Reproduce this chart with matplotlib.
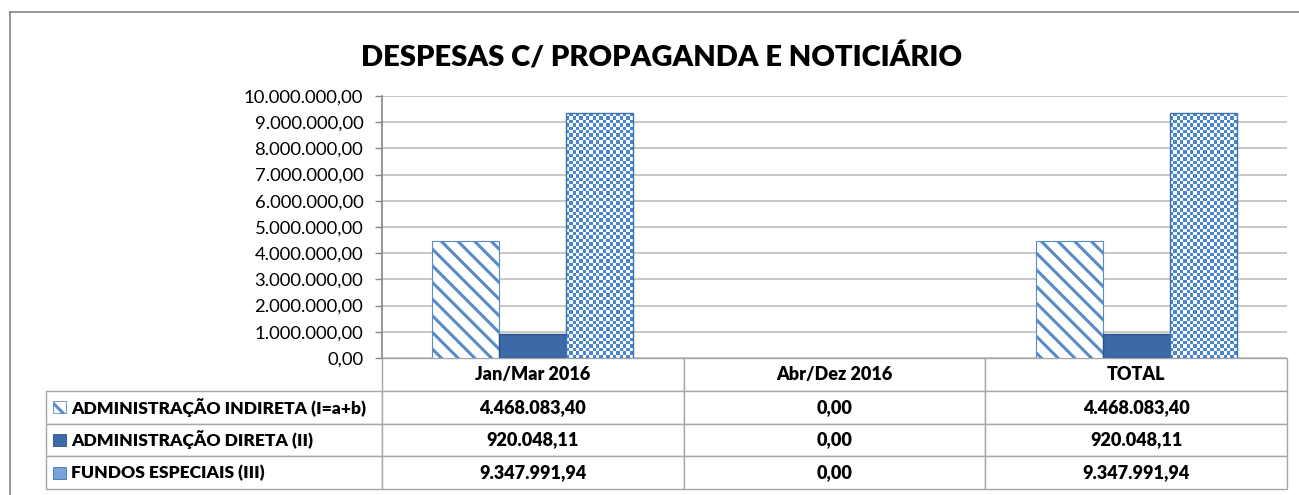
import numpy as np
import matplotlib
matplotlib.use('Agg')
import matplotlib.pyplot as plt
from matplotlib.colors import ListedColormap
from matplotlib.patches import Rectangle
from matplotlib.lines import Line2D
from matplotlib.ticker import FuncFormatter, MultipleLocator
from matplotlib.table import Table

# ---------------- data ----------------
title = 'DESPESAS C/ PROPAGANDA E NOTICIÁRIO'
categories = ['Jan/Mar 2016', 'Abr/Dez 2016', 'TOTAL']
series_names = ['ADMINISTRAÇÃO INDIRETA (I=a+b)',
                'ADMINISTRAÇÃO DIRETA (II)',
                'FUNDOS ESPECIAIS (III)']
indireta = [4468083.40, 0.00, 4468083.40]
direta = [920048.11, 0.00, 920048.11]
fundos = [9347991.94, 0.00, 9347991.94]
y_max = 10000000
y_step = 1000000

plt.rcParams['font.family'] = ['Lato', 'DejaVu Sans']
plt.rcParams['hatch.linewidth'] = 2.2


def br(v, pos=None):
    s = f"{v:,.2f}"
    return s.replace(',', 'X').replace('.', ',').replace('X', '.')


W, H = 1299, 495
fig = plt.figure(figsize=(W / 100, H / 100), dpi=100)
fig.patch.set_facecolor('white')

ax = fig.add_axes([382 / W, 1 - 358 / H, 905 / W, 262 / H])
ax.set_xlim(-0.5, len(categories) - 0.5)
ax.set_ylim(0, y_max)

x = np.arange(len(categories))
bw = 0.222
c_stripe = '#5a8bc9'
c_solid = '#3b6aa7'
c_check = '#4a86d0'

bars_i = ax.bar(x - bw, indireta, bw, facecolor='white', edgecolor=c_stripe,
                hatch='\\\\', linewidth=0.8, zorder=2)
bars_d = ax.bar(x, direta, bw, color=c_solid, edgecolor='#2b5189',
                linewidth=1, zorder=2)
bars_f = ax.bar(x + bw, fundos, bw, facecolor='none', edgecolor='#3a70b8',
                linewidth=1, zorder=3)
for group in (bars_i, bars_d, bars_f):
    for rect in group:
        if rect.get_height() <= 0:
            rect.set_linewidth(0)
            rect.set_hatch(None)

cmap_check = ListedColormap(['white', c_check])
for rect in bars_f:
    h = rect.get_height()
    if h <= 0:
        continue
    x0 = rect.get_x()
    x1 = x0 + rect.get_width()
    (px0, py0), (px1, py1) = ax.transData.transform([(x0, 0), (x1, h)])
    nx = max(1, int(round((px1 - px0) / 3.4)))
    ny = max(1, int(round((py1 - py0) / 3.4)))
    checker = np.indices((ny, nx)).sum(axis=0) % 2
    im = ax.imshow(checker, cmap=cmap_check, extent=(x0, x1, 0, h),
                   aspect='auto', interpolation='nearest', zorder=2.5)
    im.set_clip_path(rect)

ax.set_xlim(-0.5, len(categories) - 0.5)
ax.set_ylim(0, y_max)

ax.yaxis.set_major_locator(MultipleLocator(y_step))
ax.yaxis.set_major_formatter(FuncFormatter(br))
ax.yaxis.grid(True, color='#bdbdbd', linewidth=1.2)
ax.set_axisbelow(True)
ax.set_xticks([])
ax.tick_params(axis='y', length=5, width=1, color='#868686', pad=8.5,
               labelsize=13.3, labelcolor='black')
for s in ('top', 'right', 'bottom'):
    ax.spines[s].set_visible(False)
ax.spines['left'].set_color('#868686')
ax.spines['left'].set_linewidth(1.2)

# ---------------- data table ----------------
label_w = (382 - 45.7) / 905
tbl = Table(ax, bbox=[-label_w, -0.5, 1 + label_w, 0.5])
rh = 0.125
edge = '#a6a6a6'
corner = tbl.add_cell(0, 0, width=label_w, height=rh, text='',
                      facecolor='none', edgecolor=edge)
corner.visible_edges = 'open'
for j, cat in enumerate(categories):
    tbl.add_cell(0, j + 1, width=1 / 3, height=rh, text=cat, loc='center',
                 facecolor='white', edgecolor=edge)
series = [indireta, direta, fundos]
label_cells = []
for i, (name, vals) in enumerate(zip(series_names, series)):
    c = tbl.add_cell(i + 1, 0, width=label_w, height=rh, text=name,
                     loc='left', facecolor='white', edgecolor=edge)
    c.PAD = 0.075
    label_cells.append(c)
    for j, v in enumerate(vals):
        tbl.add_cell(i + 1, j + 1, width=1 / 3, height=rh, text=br(v),
                     loc='center', facecolor='white', edgecolor=edge)
tbl.auto_set_font_size(False)
tbl.set_fontsize(13)
for key, cell in tbl.get_celld().items():
    cell.set_linewidth(1)
    cell.get_text().set_fontweight('heavy')
    cell.get_text().set_color('black')
for c in label_cells:
    c.get_text().set_fontsize(12.6)
ax.add_table(tbl)

# legend keys inside the row labels
ix0 = (52.7 - 382) / 905
iw = 13 / 905
ih = 12 / 262
for i in range(3):
    yc = -0.5 + (3 - i - 0.5) * rh
    if i == 0:
        p = Rectangle((ix0, yc - ih / 2), iw, ih, facecolor='white',
                      edgecolor=c_stripe, hatch='\\\\', linewidth=0.6,
                      transform=ax.transAxes, clip_on=False, zorder=5)
    elif i == 1:
        p = Rectangle((ix0, yc - ih / 2), iw, ih, facecolor=c_solid,
                      edgecolor='#2b5189', linewidth=0.6,
                      transform=ax.transAxes, clip_on=False, zorder=5)
    else:
        p = Rectangle((ix0, yc - ih / 2), iw, ih, facecolor='#79a3da',
                      edgecolor='#3a70b8', linewidth=0.6,
                      transform=ax.transAxes, clip_on=False, zorder=5)
    ax.add_patch(p)

# ---------------- title & frame ----------------
fig.text(662 / W, 1 - 57 / H, title, ha='center', va='center',
         fontsize=21, fontweight='heavy', color='black')

fig.add_artist(Line2D([9.5 / W, 1], [1 - 12 / H, 1 - 12 / H],
                      transform=fig.transFigure, color='#8c8c8c', linewidth=1.3))
fig.add_artist(Line2D([9.5 / W, 9.5 / W], [0, 1 - 12 / H],
                      transform=fig.transFigure, color='#8c8c8c', linewidth=1.3))

fig.savefig('out.png', dpi=100, facecolor='white')
